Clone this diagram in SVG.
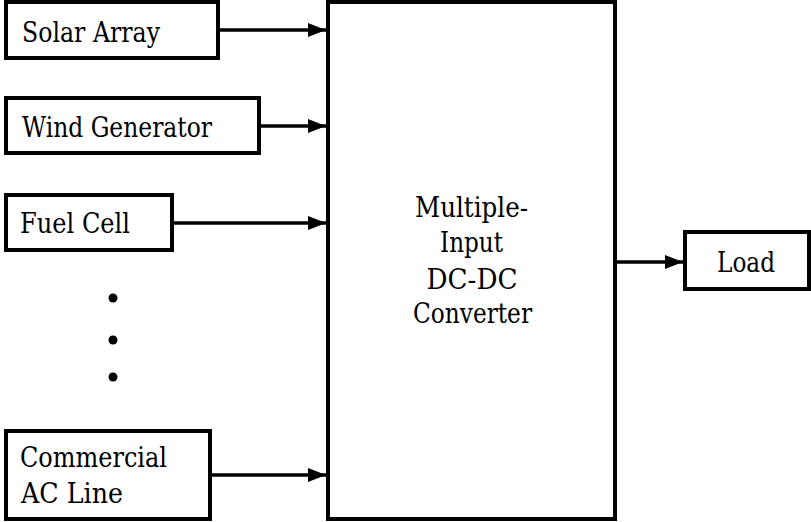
<svg xmlns="http://www.w3.org/2000/svg" width="811" height="522" viewBox="0 0 811 522">
<defs>
<style>
.box{fill:#fff;stroke:#000;stroke-width:4}
.t{font-family:'DejaVu Serif',serif;font-size:27px;fill:#000}
.c{text-anchor:middle}
.w{stroke:#000;stroke-width:3.5;fill:none}
</style>
<marker id="ah" markerUnits="userSpaceOnUse" markerWidth="18" markerHeight="14" refX="18" refY="7" orient="auto">
<path d="M0,0 L18,7 L0,14 Z" fill="#000"/>
</marker>
</defs>
<rect width="811" height="522" fill="#fff"/>
<g id="solar"><rect class="box" x="6" y="2" width="212" height="56"/><text class="t" x="22" y="42" textLength="138" lengthAdjust="spacingAndGlyphs">Solar Array</text></g>
<g id="wind"><rect class="box" x="6" y="98" width="253" height="55"/><text class="t" x="22" y="137" textLength="190" lengthAdjust="spacingAndGlyphs">Wind Generator</text></g>
<g id="fuel"><rect class="box" x="6" y="195" width="166" height="55"/><text class="t" x="20" y="233" textLength="110" lengthAdjust="spacingAndGlyphs">Fuel Cell</text></g>
<g id="dots"><circle cx="113" cy="298" r="4.5"/><circle cx="113" cy="340" r="4.5"/><circle cx="113" cy="377" r="4.5"/></g>
<g id="commercial"><rect class="box" x="6" y="431" width="204" height="88"/><text class="t" x="20" y="467" textLength="147" lengthAdjust="spacingAndGlyphs">Commercial</text><text class="t" x="21" y="503" textLength="102" lengthAdjust="spacingAndGlyphs">AC Line</text></g>
<g id="converter"><rect class="box" x="328" y="2" width="287" height="517"/>
<text class="t c" x="471.5" y="217" textLength="113" lengthAdjust="spacingAndGlyphs">Multiple-</text>
<text class="t c" x="471.5" y="252" textLength="63" lengthAdjust="spacingAndGlyphs">Input</text>
<text class="t c" x="472" y="289" textLength="91" lengthAdjust="spacingAndGlyphs">DC-DC</text>
<text class="t c" x="472.5" y="323" textLength="119" lengthAdjust="spacingAndGlyphs">Converter</text></g>
<g id="load"><rect class="box" x="685" y="232" width="124" height="57"/><text class="t c" x="746" y="272" textLength="58" lengthAdjust="spacingAndGlyphs">Load</text></g>
<g id="connectors">
<line class="w" x1="220" y1="30" x2="326" y2="30" marker-end="url(#ah)"/>
<line class="w" x1="261" y1="126" x2="326" y2="126" marker-end="url(#ah)"/>
<line class="w" x1="174" y1="223" x2="326" y2="223" marker-end="url(#ah)"/>
<line class="w" x1="212" y1="475" x2="326" y2="475" marker-end="url(#ah)"/>
<line class="w" x1="617" y1="262" x2="683" y2="262" marker-end="url(#ah)"/>
</g>
</svg>
